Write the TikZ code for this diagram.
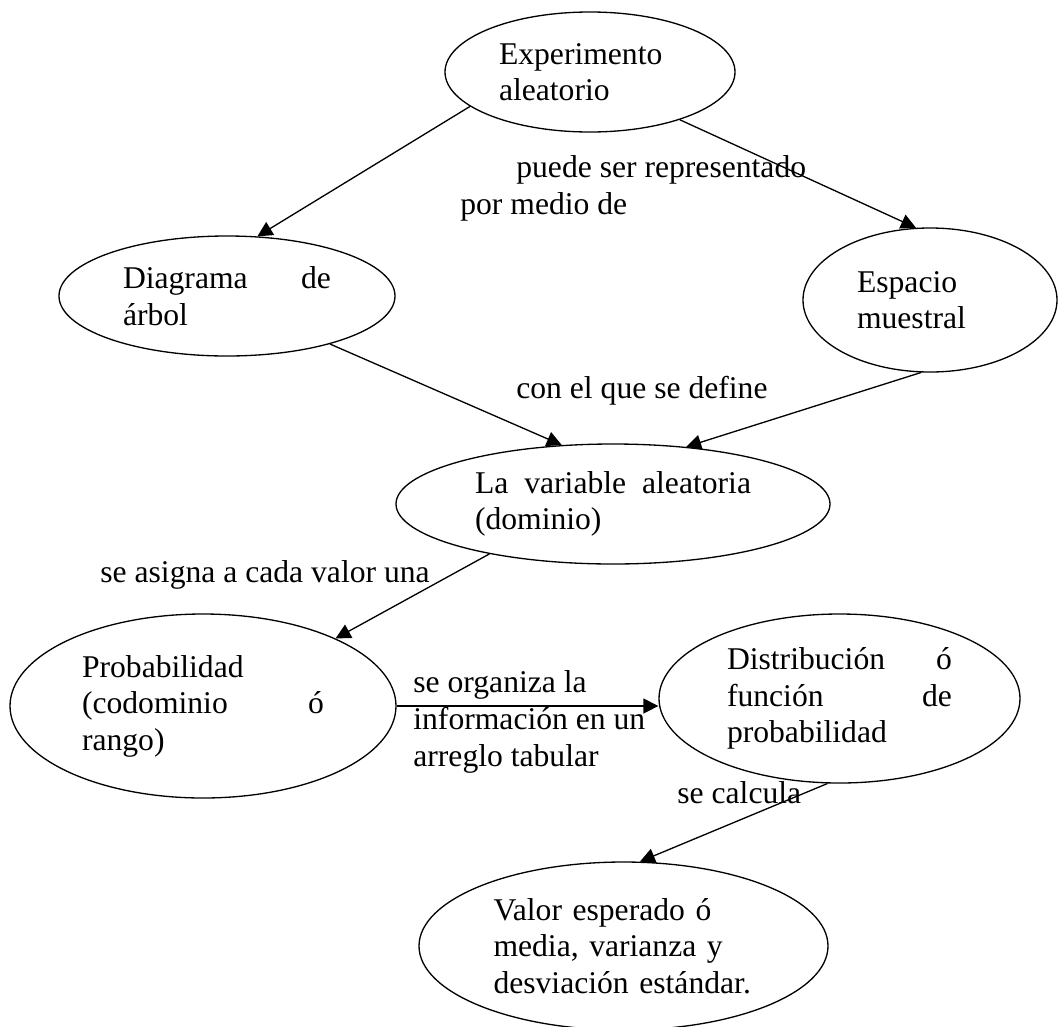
\documentclass[tikz,border=0pt]{standalone}
\usepackage{fontspec}
\setmainfont{Liberation Serif}
\usetikzlibrary{arrows.meta,shapes.geometric}

\begin{document}
\begin{tikzpicture}[
  concept/.style={draw, ellipse, line width=0.75pt, inner sep=0pt, align=left},
  arrow/.style={-{Triangle[length=3mm, width=3mm]}, line width=0.75pt},
  linktext/.style={anchor=base west, inner sep=0pt, align=left},
  font=\fontsize{18}{20.8}\selectfont
]
\useasboundingbox (0,0) rectangle (21.16,-20.52);
\node[concept, minimum width=5.8cm, minimum height=2.4cm, text width=3.64cm] (exp) at (11.8,-1.44) {Experimento\\aleatorio};
\node[concept, minimum width=6.72cm, minimum height=2.4cm, text width=4.16cm] (diag) at (4.54,-5.92) {Diagrama \hfill de\\árbol};
\node[concept, minimum width=5.08cm, minimum height=2.88cm, text width=2.92cm] (esp) at (18.6,-6.0) {Espacio\\muestral};
\node[concept, minimum width=8.68cm, minimum height=2.4cm, text width=5.52cm] (lavar) at (12.26,-10.08) {La \hfill variable \hfill aleatoria\\(dominio)};
\node[concept, minimum width=7.72cm, minimum height=3.68cm, text width=4.84cm] (prob) at (4.06,-14.12) {Probabilidad\\(codominio \hfill ó\\rango)};
\node[concept, minimum width=7.22cm, minimum height=3.38cm, text width=4.5cm] (dist) at (16.79,-13.97) {Distribución \hfill ó\\función \hfill de\\probabilidad};
\node[concept, minimum width=8.18cm, minimum height=3.36cm, text width=5.2cm] (valor) at (12.47,-18.92) {Valor esperado ó\\media, varianza y\\desviación estándar.};
% textos de los enlaces (base = ultima linea)
\node[linktext] (lblrep) at (9.2,-4.28) {\hspace*{1.12cm}puede ser representado\\por medio de};
\node[linktext] (lbldef) at (10.32,-7.96) {con el que se define};
\node[linktext] (lblasig) at (2.0,-11.64) {se asigna a cada valor una};
\node[linktext] (lblorg) at (8.26,-15.32) {se organiza la\\información en un\\arreglo tabular};
\node[linktext] (lblcalc) at (13.54,-16.06) {se calcula};
\draw[arrow] (exp.196) -- (diag.63);
\draw[arrow] (exp.332) -- (esp.101);
\draw[arrow] (diag.335) -- (lavar.131);
\draw[arrow] (esp.263) -- (lavar.38);
\draw[arrow] (lavar.202) -- (prob.27);
\draw[arrow] (prob.east) -- (prob.east -| dist.west);
\draw[arrow] (dist.262) -- (valor.79);
\end{tikzpicture}
\end{document}
